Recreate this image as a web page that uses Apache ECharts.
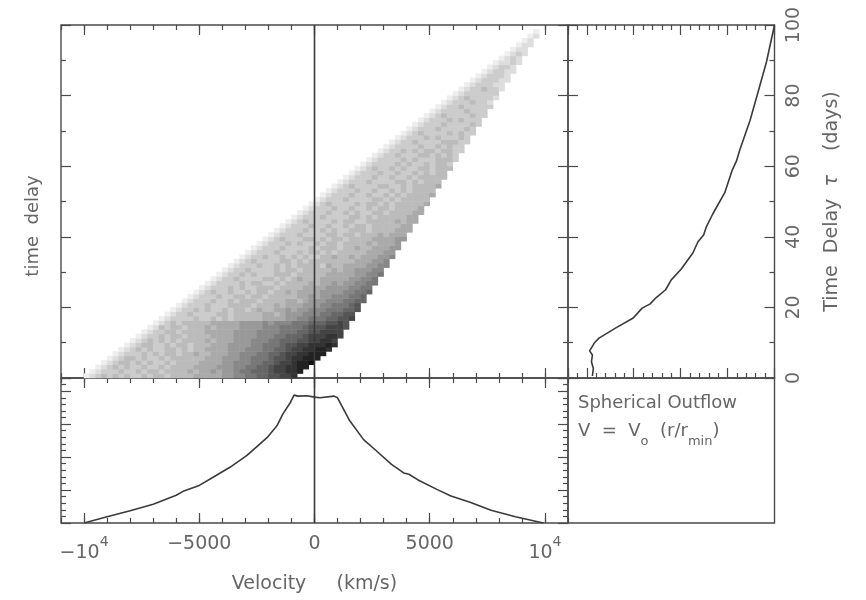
<!DOCTYPE html>
<html>
<head>
<meta charset="utf-8">
<style>html,body{margin:0;padding:0;background:#fff}#c{width:866px;height:600px}</style>
<script src="https://cdn.jsdelivr.net/npm/echarts@6/dist/echarts.min.js"></script>
</head>
<body>
<div id="c"></div>
<script>
// Velocity / delay bins of the density map (km/s and days per cell)
const velocityBinStart = -11000, velocityBinWidth = 250, velocityBinCount = 88;
const delayBinWidth = 1.25, delayBinCount = 80;
// Density: one string per delay bin, bottom row first.
// Hex digit = darkness 0..15. The first cell of row r sits at velocity -10000 + r*250.
const densityRows = [
"1234 3434 3343 4434 4445 5555 6677 8899 aabb c",
"123 3343 3434 4344 4454 5565 6678 8999 abbc cd",
"12 3434 3343 3434 4445 5556 6677 8899 abbc cdd",
"1 2344 3434 3343 4444 5555 6677 7889 9abb cdde",
"1234 4343 3434 4444 4555 6667 7888 9aab ccdd d",
"123 3343 4344 3445 4455 5667 7788 99ab bccd dd",
"12 3434 3344 3434 4555 5666 7778 899a bbcc ddc",
"1 2344 3343 4434 4455 5666 6778 889a abbc ccdc",
"1234 3434 3444 4545 5566 6777 8899 9aab bccb",
"123 3434 4344 4455 5566 6677 7889 99ab bbcc b",
"12 3344 3444 4555 5566 6677 7788 899a abbb b",
"1 2434 4344 4545 5556 6667 7788 889a aabb ba",
"1234 3444 4455 5556 6667 6777 8889 99aa ba",
"123 3334 3343 4344 4445 5556 6778 8899 aab",
"12 3343 3334 4344 4445 5456 6677 7889 9aa",
"1 2334 3433 4344 3454 4556 5667 7788 899a",
"1233 3433 3444 4344 4545 5566 6778 889a",
"123 3343 3434 4434 4445 5456 6677 7889 9",
"12 3334 3344 3443 4444 4556 5667 7788 9",
"1 2343 3433 4344 3445 4555 5666 6778 89",
"1233 3434 3344 4344 4455 5566 6677 88",
"123 3334 3443 3434 4445 4556 5667 788",
"12 3343 3334 4343 4544 4555 5566 778",
"1 2334 3433 3444 3444 4455 5556 6778",
"1233 4333 3434 4344 4445 4556 6677",
"123 3343 3434 3444 4354 4555 5667 7",
"12 3433 3344 3434 4444 4445 5566 7",
"1 2334 3343 4343 3445 4454 5556 67",
"1233 3433 3434 4343 4444 4555 66",
"123 3343 3334 3444 3445 4455 566",
"12 3334 3433 4344 3444 4545 556",
"1 2343 3344 3434 4344 4455 5566",
"1233 3433 3344 3443 4445 4555",
"123 3343 3434 3344 4344 4455 5",
"12 3334 3343 3434 4344 4445 5",
"1 2343 3334 3443 3444 4454 55",
"1233 3433 3344 3434 4444 55",
"123 3343 3434 3344 3444 455",
"12 3334 3343 3434 4344 445",
"1 2343 3334 3443 4344 4445",
"1233 3433 3344 3434 4444",
"123 3343 3433 4343 4444 5",
"12 3334 3343 3434 3444 4",
"1 2343 3334 4334 3444 45",
"1233 3433 3344 3434 44",
"123 3343 3433 4344 444",
"12 3334 3343 3434 344",
"1 2343 3434 3344 3444",
"1233 3343 4334 3443",
"123 3334 3433 3444 3",
"12 3343 3344 3434 3",
"1 2334 3434 4344 33",
"1233 3343 3434 33",
"123 3433 3344 433",
"12 3334 3433 343",
"1 2343 3334 3433",
"1233 3433 3343",
"123 3343 3334 3",
"12 3334 3433 3",
"1 2343 3334 33",
"1233 3343 33",
"123 3433 333",
"12 3334 332",
"1 2343 3332",
"1233 3333",
"123 3433 2",
"12 3332 2",
"1 2333 22",
"1233 32",
"123 322",
"12 332",
"1 2232",
"1232",
"123 2",
"12 2",
"1 22",
"12",
"12",
"1"
];
// Velocity profile (km/s, log flux)
const profileVelocity = [-10000,-9000,-8000,-7000,-6000,-5700,-5000,-4400,-3670,-2930,-2500,-2060,-1630,-1370,-1060,-890,-716,-325,0,240,850,1000,1530,2130,2670,3340,3870,4100,4560,5310,5920,6750,7660,8720,9930];
const profileFlux = [0,0.19,0.37,0.57,0.84,0.96,1.14,1.39,1.69,2.05,2.32,2.59,2.95,3.31,3.64,3.88,3.85,3.86,3.82,3.80,3.85,3.80,3.10,2.53,2.20,1.78,1.52,1.48,1.28,1.02,0.82,0.63,0.39,0.19,0];
// Delay profile (days, log flux)
const delayDays = [0.57,2.7,4.6,6.5,7.7,9.9,11.3,14.2,17,19.8,21,22.8,25,27.8,30.8,35.4,38.6,40.5,42.9,46.6,52.5,58.9,61.5,64.6,73,81,89.6,100];
const delayFlux = [3.88,3.86,3.90,3.88,3.94,3.84,3.74,3.38,3.01,2.82,2.65,2.52,2.32,2.20,1.99,1.74,1.63,1.51,1.45,1.31,1.06,0.90,0.81,0.74,0.52,0.35,0.17,0];
// Tick values and labels
const velocityTicks = [-10000,-5000,0,5000,10000];
const velocityLabels = {'-10000':'{n|\u221210}{e|4}','-5000':'\u22125000','0':'0','5000':'5000','10000':'{n|10}{e|4}'};
const zeroLineVelocity = [0,0];
const zeroLineDelay = [0,100];
const zeroLineFlux = [0,4.4];

const ink = '#4a4a4a';
const font = '"DejaVu Sans",sans-serif';
const textColor = '#666';
const textBase = {fontFamily:font,fontWeight:'normal',color:textColor};
const sizeTick = 19;

const xCats = []; for (let i=0;i<velocityBinCount;i++) xCats.push(velocityBinStart+i*velocityBinWidth);
const yCats = []; for (let i=0;i<delayBinCount;i++) yCats.push(i*delayBinWidth);
const heatData = [];
densityRows.forEach((row,r)=>{
  const cells = row.replace(/ /g,'');
  for (let k=0;k<cells.length;k++) heatData.push([r+k+4, r, parseInt(cells[k],16)]);
});

const tickLine = {color:ink,width:1.2};
const hiddenLine = {show:false,onZero:false};
function velAxis(grid,pos,major,labels,extra){
  return Object.assign({type:'value',gridIndex:grid,position:pos,min:-11000,max:11000,
    interval:major?5000:1000,
    axisLine:hiddenLine,splitLine:{show:false},
    axisTick:Object.assign({show:true,inside:true,length:major?10:5,lineStyle:tickLine},major?{customValues:velocityTicks}:{}),
    axisLabel:labels?Object.assign({show:true,customValues:velocityTicks,margin:12,fontSize:sizeTick,
      formatter:v=>velocityLabels[String(v)],
      rich:{n:Object.assign({fontSize:sizeTick,verticalAlign:'bottom',lineHeight:28},textBase),
            e:Object.assign({fontSize:14,verticalAlign:'top',lineHeight:28},textBase)}},textBase):{show:false}},extra||{});
}
function delayAxis(grid,pos,labels,extra){
  return Object.assign({type:'value',gridIndex:grid,position:pos,min:0,max:100,interval:20,
    axisLine:hiddenLine,splitLine:{show:false},
    axisTick:{show:true,inside:true,length:10,lineStyle:tickLine},
    minorTick:{show:true,splitNumber:2,length:5,lineStyle:tickLine},
    axisLabel:labels?Object.assign({show:true,rotate:90,margin:10,fontSize:sizeTick},textBase):{show:false}},extra||{});
}
function fluxAxis(grid,pos,extra){
  return Object.assign({type:'value',gridIndex:grid,position:pos,min:0,max:4.4,interval:1,
    axisLine:hiddenLine,splitLine:{show:false},
    axisTick:{show:true,inside:true,length:10,lineStyle:tickLine},
    minorTick:{show:true,splitNumber:5,length:5,lineStyle:tickLine},
    axisLabel:{show:false}},extra||{});
}
function frame(rect){return Object.assign({show:true,backgroundColor:'transparent',borderColor:ink,borderWidth:1.4,containLabel:false},rect);}

const xAxis = [
 /*0*/ {type:'category',gridIndex:0,data:xCats,show:false},
 /*1*/ velAxis(1,'bottom',false,false),
 /*2*/ velAxis(1,'bottom',true,false),
 /*3*/ velAxis(1,'top',false,false),
 /*4*/ velAxis(1,'top',true,false),
 /*5*/ velAxis(2,'bottom',false,false),
 /*6*/ velAxis(2,'bottom',true,true,{name:'Velocity     (km/s)',nameLocation:'middle',nameGap:52,nameTextStyle:Object.assign({fontSize:19},textBase)}),
 /*7*/ velAxis(2,'top',false,false),
 /*8*/ velAxis(2,'top',true,false),
 /*9*/ fluxAxis(3,'bottom',{inverse:true}),
 /*10*/fluxAxis(3,'top',{inverse:true})
];
const yAxis = [
 /*0*/ {type:'category',gridIndex:0,data:yCats,show:false},
 /*1*/ delayAxis(1,'left',false),
 /*2*/ delayAxis(1,'right',false),
 /*3*/ fluxAxis(2,'left'),
 /*4*/ fluxAxis(2,'right'),
 /*5*/ delayAxis(3,'left',false),
 /*6*/ delayAxis(3,'right',true,{name:'{n|Time  Delay  }{t|\u03c4}{n|    (days)}',nameLocation:'middle',nameGap:48,nameRotate:90,
        nameTextStyle:Object.assign({fontSize:19,rich:{n:Object.assign({fontSize:19},textBase),t:Object.assign({fontSize:19,fontStyle:'italic'},textBase)}},textBase)})
];

const lineStyle = {color:'#3a3a3a',width:1.6};
const option = {
  animation:false,
  backgroundColor:'#fff',
  grid:[
    {left:61,top:25,width:507,height:353,show:false},
    frame({left:61,top:25,width:507,height:353}),
    frame({left:61,top:378,width:507,height:145}),
    frame({left:568,top:25,width:206.5,height:353}),
    frame({left:568,top:378,width:206.5,height:145})
  ],
  xAxis, yAxis,
  visualMap:{show:false,seriesIndex:0,dimension:2,min:0,max:15,inRange:{color:['#ffffff','#000000']}},
  series:[
    {type:'heatmap',xAxisIndex:0,yAxisIndex:0,data:heatData,progressive:0,silent:true,emphasis:{disabled:true},z:1},
    {type:'line',xAxisIndex:1,yAxisIndex:1,data:zeroLineVelocity.map((v,i)=>[v,zeroLineDelay[i]]),showSymbol:false,lineStyle,silent:true,z:5},
    {type:'line',xAxisIndex:5,yAxisIndex:3,data:zeroLineVelocity.map((v,i)=>[v,zeroLineFlux[i]]),showSymbol:false,lineStyle,silent:true,z:5},
    {type:'line',xAxisIndex:5,yAxisIndex:3,data:profileVelocity.map((v,i)=>[v,profileFlux[i]]),showSymbol:false,lineStyle,silent:true,z:5},
    {type:'line',xAxisIndex:9,yAxisIndex:5,data:delayDays.map((t,i)=>[delayFlux[i],t]),showSymbol:false,lineStyle,silent:true,z:5}
  ],
  graphic:[
    {type:'text',x:33,y:226,rotation:Math.PI/2,style:{text:'time  delay',fontSize:18,fontFamily:font,fill:textColor,align:'center',verticalAlign:'middle'}},
    {type:'text',left:578,top:394,style:{text:'Spherical Outflow',fontSize:18,fontFamily:font,fill:textColor}},
    {type:'text',left:578,top:422,style:{
      text:'{n|V  =  V}{s|o}{n|  (r/r}{s|min}{n|)}',
      rich:{n:{fontSize:18,fontFamily:font,fill:textColor,lineHeight:26,verticalAlign:'top'},
            s:{fontSize:13,fontFamily:font,fill:textColor,lineHeight:26,verticalAlign:'bottom'}}}}
  ]
};
echarts.init(document.getElementById('c'),null,{renderer:'canvas'}).setOption(option);
</script>
</body>
</html>
